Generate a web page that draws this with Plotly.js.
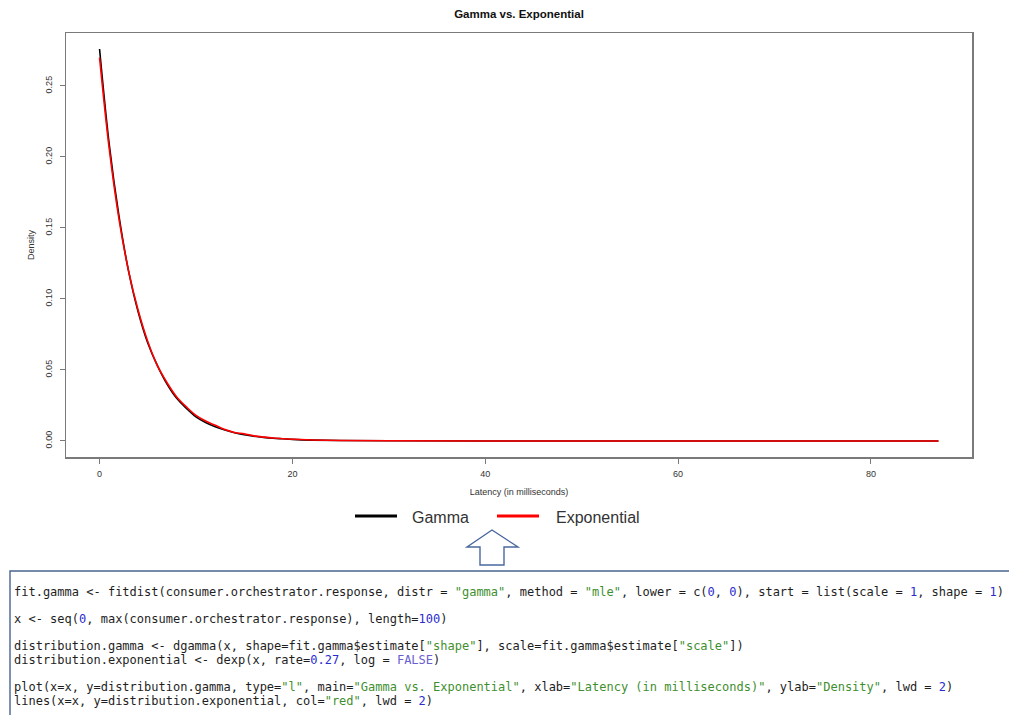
<!DOCTYPE html>
<html>
<head>
<meta charset="utf-8">
<script src="https://cdn.plot.ly/plotly-3.0.1.min.js"></script>
<style>html,body{margin:0;padding:0;background:#fff;}#chart{width:1009px;height:715px;}</style>
</head>
<body>
<div id="chart"></div>
<script>
// Values
var latency = [0, 1, 2, 3, 4, 5, 6, 7, 8, 9, 10, 11, 12, 13, 14, 15, 16, 17, 18, 19, 20, 22, 25, 30, 40, 87];
var gammaDensity = [0.276, 0.209, 0.159, 0.120, 0.091, 0.069, 0.053, 0.040, 0.030, 0.023, 0.017, 0.013, 0.010, 0.0077, 0.0058, 0.0044, 0.0033, 0.0025, 0.0019, 0.0015, 0.0011, 0.0006, 0.0003, 0.0001, 0, 0];
var expDensity = [0.270, 0.206, 0.157, 0.120, 0.092, 0.070, 0.053, 0.041, 0.031, 0.024, 0.018, 0.014, 0.011, 0.008, 0.006, 0.005, 0.0036, 0.0027, 0.0021, 0.0016, 0.0012, 0.0007, 0.0003, 0.0001, 0, 0];
var xTicks = [0, 20, 40, 60, 80];
var yTicks = [0.00, 0.05, 0.10, 0.15, 0.20, 0.25];
var yTickText = ["0.00", "0.05", "0.10", "0.15", "0.20", "0.25"];
var seriesNames = ["Gamma", "Exponential"];
var codeLines = [
  'fit.gamma &lt;- fitdist(consumer.orchestrator.response, distr = <S>"gamma"</S>, method = <S>"mle"</S>, lower = c(<N>0</N>, <N>0</N>), start = list(scale = <N>1</N>, shape = <N>1</N>)',
  'x &lt;- seq(<N>0</N>, max(consumer.orchestrator.response), length=<N>100</N>)',
  'distribution.gamma &lt;- dgamma(x, shape=fit.gamma$estimate[<S>"shape"</S>], scale=fit.gamma$estimate[<S>"scale"</S>])',
  'distribution.exponential &lt;- dexp(x, rate=<N>0.27</N>, log = <K>FALSE</K>)',
  'plot(x=x, y=distribution.gamma, type=<S>"l"</S>, main=<S>"Gamma vs. Exponential"</S>, xlab=<S>"Latency (in milliseconds)"</S>, ylab=<S>"Density"</S>, lwd = <N>2</N>)',
  'lines(x=x, y=distribution.exponential, col=<S>"red"</S>, lwd = <N>2</N>)'
];
var codeRows = [0, 2, 4, 5, 7, 8];

// Layout geometry (pixels)
var W = 1009, H = 715, L = 66, R = 972, T = 33, B = 457;
function px(x) { return (x - L) / (R - L); }
function py(y) { return 1 - (y - T) / (B - T); }

var rFont = '"Liberation Sans Narrow", "Liberation Sans", Arial, sans-serif';
var axisCol = '#7a7a7a';

var traces = [
  {x: latency, y: gammaDensity, type: 'scatter', mode: 'lines', name: seriesNames[0],
   line: {color: '#000000', width: 1.6, shape: 'spline', smoothing: 1}, showlegend: false},
  {x: latency, y: expDensity, type: 'scatter', mode: 'lines', name: seriesNames[1],
   line: {color: '#ff0000', width: 1.6, shape: 'spline', smoothing: 1}, showlegend: false}
];

function colorize(s) {
  return s.replace(/<S>/g, '<span style="color:#3f8f2f">').replace(/<\/S>/g, '</span>')
          .replace(/<N>/g, '<span style="color:#2b2bd0">').replace(/<\/N>/g, '</span>')
          .replace(/<K>/g, '<span style="color:#6a5fd0">').replace(/<\/K>/g, '</span>');
}

var annotations = [];
// legend texts
annotations.push({xref: 'paper', yref: 'paper', x: px(410), y: py(517), xanchor: 'left', yanchor: 'middle',
  text: seriesNames[0], showarrow: false, font: {family: '"Liberation Sans", Arial, sans-serif', size: 16, color: '#333'}});
annotations.push({xref: 'paper', yref: 'paper', x: px(554), y: py(517), xanchor: 'left', yanchor: 'middle',
  text: seriesNames[1], showarrow: false, font: {family: '"Liberation Sans", Arial, sans-serif', size: 16, color: '#333'}});
// code text
for (var i = 0; i < codeLines.length; i++) {
  annotations.push({xref: 'paper', yref: 'paper', x: px(12), y: py(592 + 13.6 * codeRows[i]),
    xanchor: 'left', yanchor: 'middle', align: 'left', showarrow: false,
    text: colorize(codeLines[i]),
    font: {family: '"DejaVu Sans Mono", "Liberation Mono", monospace', size: 12, color: '#1e1e1e'}});
}

function pathPx(pts) {
  return pts.map(function (p, k) { return (k ? 'L' : 'M') + px(p[0]) + ',' + py(p[1]); }).join(' ') + ' Z';
}

var shapes = [
  {type: 'line', xref: 'paper', yref: 'paper', x0: px(355), x1: px(397), y0: py(516), y1: py(516),
   line: {color: '#000', width: 3}},
  {type: 'line', xref: 'paper', yref: 'paper', x0: px(497), x1: px(539), y0: py(516), y1: py(516),
   line: {color: '#ff0000', width: 3}},
  {type: 'path', xref: 'paper', yref: 'paper',
   path: pathPx([[492, 530], [518, 547], [504, 547], [504, 565], [480, 565], [480, 547], [467, 547]]),
   fillcolor: '#ffffff', line: {color: '#4a689e', width: 1.4}},
  {type: 'rect', xref: 'paper', yref: 'paper', x0: px(10), x1: px(1030), y0: py(571), y1: py(740),
   fillcolor: 'rgba(0,0,0,0)', line: {color: '#4a6490', width: 1.4}}
];

var layout = {
  width: W, height: H,
  margin: {l: L, r: W - R, t: T, b: H - B, pad: 0},
  paper_bgcolor: '#fff', plot_bgcolor: '#fff',
  showlegend: false,
  title: {text: '<b>Gamma vs. Exponential</b>', xref: 'paper', x: 0.5, xanchor: 'center',
    yref: 'container', y: 1 - 14 / H, yanchor: 'middle',
    font: {family: rFont, size: 11.5, color: '#111'}},
  xaxis: {
    range: [-3.48, 90.48], tickvals: xTicks, ticktext: xTicks.map(String),
    showgrid: false, zeroline: false, showline: true, mirror: true,
    linecolor: axisCol, linewidth: 1.5, ticks: 'outside', ticklen: 5, tickcolor: axisCol, tickwidth: 1,
    ticklabelstandoff: 3,
    tickfont: {family: rFont, size: 9, color: '#333'},
    title: {text: 'Latency (in milliseconds)', standoff: 10, font: {family: rFont, size: 9, color: '#333'}}
  },
  yaxis: {
    range: [-0.0113, 0.2873], tickvals: yTicks, ticktext: yTickText, tickangle: -90,
    showgrid: false, zeroline: false, showline: true, mirror: true,
    linecolor: axisCol, linewidth: 1.5, ticks: 'outside', ticklen: 5, tickcolor: axisCol, tickwidth: 1,
    ticklabelstandoff: 4,
    tickfont: {family: rFont, size: 9, color: '#333'},
    title: {text: 'Density', standoff: 8, font: {family: rFont, size: 9, color: '#333'}}
  },
  annotations: annotations,
  shapes: shapes
};

Plotly.newPlot('chart', traces, layout, {displayModeBar: false, staticPlot: true});
</script>
</body>
</html>
